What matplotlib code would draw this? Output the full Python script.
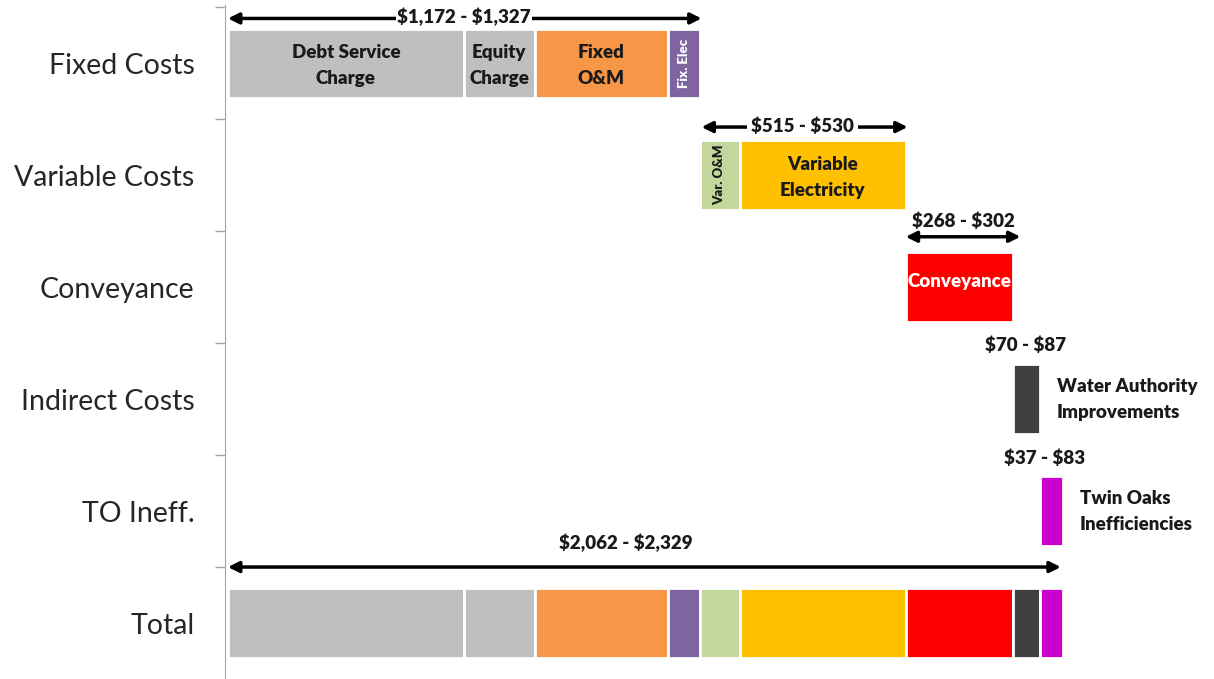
import matplotlib.pyplot as plt
import numpy as np

plt.rcParams['font.family'] = ['Lato', 'DejaVu Sans']

# rows of the waterfall, top to bottom
categories = ["Fixed Costs", "Variable Costs", "Conveyance",
              "Indirect Costs", "TO Ineff.", "Total"]

# components (estimated $ values), row index each belongs to
comp_names = ["Debt Service\nCharge", "Equity\nCharge", "Fixed\nO&M", "Fix. Elec",
              "Var. O&M", "Variable\nElectricity", "Conveyance",
              "Water Authority\nImprovements", "Twin Oaks\nInefficiencies"]
comp_values = [625, 188, 352, 85, 106, 440, 284, 72, 60]
comp_rows = [0, 0, 0, 0, 1, 1, 2, 3, 4]
comp_colors = ["#BFBFBF", "#BFBFBF", "#F79646", "#8064A2", "#C3D69B",
               "#FFC000", "#FF0000", "#404040", "#CC00CC"]

range_labels = [r"\$1,172 - \$1,327", r"\$515 - \$530", r"\$268 - \$302",
                r"\$70 - \$87", r"\$37 - \$83", r"\$2,062 - \$2,329"]

fig = plt.figure(figsize=(12.14, 6.79), dpi=100)
ax = fig.add_axes([0.1853, 0.0, 0.8147, 0.9926])

starts = np.concatenate([[0], np.cumsum(comp_values)[:-1]])
total_row = len(categories) - 1
h = 0.62
fs = 13.5

for i, (name, v, r, c, s) in enumerate(zip(comp_names, comp_values, comp_rows, comp_colors, starts)):
    ax.barh(r, v, left=s, height=h, color=c, edgecolor="white", linewidth=2)
    ax.barh(total_row, v, left=s, height=h, color=c, edgecolor="white", linewidth=2)

# labels inside / beside bars
txt = dict(fontsize=fs, fontweight="heavy", color="#1a1a1a", ha="center", va="center",
           linespacing=1.65)
for i in [0, 1, 2, 5]:
    ax.text(starts[i] + comp_values[i] / 2, comp_rows[i] + 0.02, comp_names[i], **txt)
ax.text(starts[3] + comp_values[3] / 2, 0, comp_names[3], rotation=90, fontsize=9.5,
        fontweight="heavy", color="white", ha="center", va="center")
ax.text(starts[4] + comp_values[4] / 2, 1, comp_names[4], rotation=90, fontsize=9.5,
        fontweight="heavy", color="#1a1a1a", ha="center", va="center")
ax.text(starts[6] + comp_values[6] / 2, 1.95, comp_names[6], fontsize=fs,
        fontweight="heavy", color="white", ha="center", va="center")
for i in [7, 8]:
    ax.text(starts[i] + comp_values[i] + 45, comp_rows[i], comp_names[i], fontsize=fs,
            fontweight="heavy", color="#1a1a1a", ha="left", va="center", linespacing=1.65)

# range arrows
def double_arrow(x0, x1, y):
    ax.annotate("", xy=(x1, y), xytext=(x0, y),
                arrowprops=dict(arrowstyle="<|-|>", color="black", lw=2.5,
                                mutation_scale=16, shrinkA=0, shrinkB=0))

lab = dict(fontsize=fs, fontweight="heavy", color="#1a1a1a", ha="center", va="center")
fixed_end = starts[4]
var_end = starts[6]
conv_end = starts[7]
grand = sum(comp_values)

double_arrow(0, fixed_end + 5, -0.40)
ax.text(fixed_end / 2, -0.41, range_labels[0], bbox=dict(fc="white", ec="none", pad=1), **lab)
double_arrow(fixed_end + 5, var_end + 5, 0.57)
ax.text((fixed_end + var_end) / 2, 0.56, range_labels[1],
        bbox=dict(fc="white", ec="none", pad=3), **lab)
double_arrow(var_end, conv_end + 20, 1.55)
ax.text((var_end + conv_end + 20) / 2, 1.41, range_labels[2], **lab)
ax.text(starts[7] + comp_values[7] / 2 - 2, 2.52, range_labels[3], **lab)
ax.text(starts[8] + comp_values[8] / 2 - 18, 3.53, range_labels[4], **lab)
double_arrow(0, grand - 5, 4.5)
ax.text(1055, 4.28, range_labels[5], **lab)

# axes styling
ax.set_xlim(-8, 2613)
ax.set_ylim(5.5, -0.52)
ax.set_yticks(range(len(categories)))
ax.set_yticklabels(categories, fontsize=20.5, color="#262626")
ax.tick_params(axis="y", which="major", length=0, pad=22)
ax.set_yticks(np.arange(-0.5, 5.0, 1.0), minor=True)
ax.tick_params(axis="y", which="minor", length=7, color="#a6a6a6", width=1)
ax.set_xticks([])
for side in ["top", "right", "bottom"]:
    ax.spines[side].set_visible(False)
ax.spines["left"].set_color("#a6a6a6")

fig.savefig("out.png", dpi=100)
